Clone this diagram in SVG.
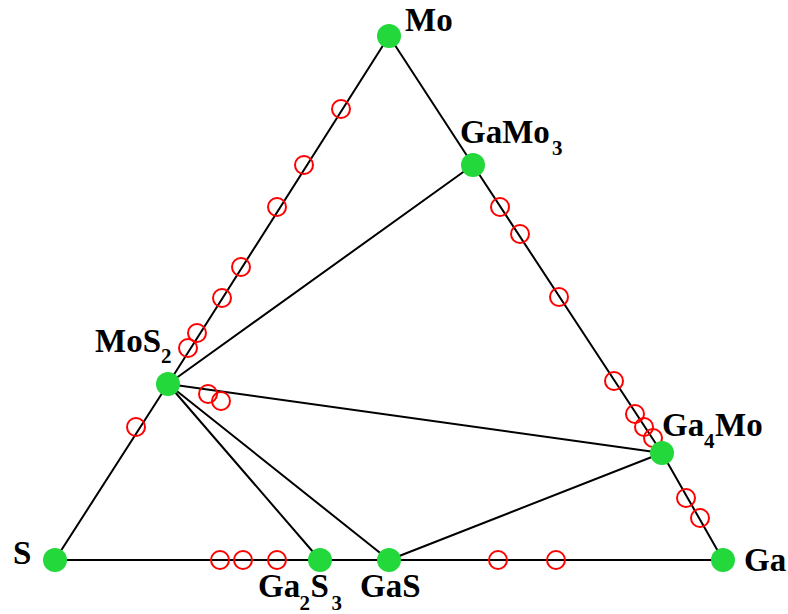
<svg xmlns="http://www.w3.org/2000/svg" width="788" height="614" viewBox="0 0 788 614">
<style>
.ln{stroke:#000;stroke-width:2;fill:none;stroke-linecap:round}
.pt{fill:none;stroke:#ff0000;stroke-width:2}
.nd{fill:#22d83a}
.lb{font-family:"Liberation Serif","Times New Roman",serif;font-weight:bold;font-size:33px;fill:#000}
.sb{font-family:"Liberation Serif","Times New Roman",serif;font-weight:bold;font-size:21px;fill:#000}
</style>
<rect width="788" height="614" fill="#fff"/>
<g id="connectors">
<line class="ln" x1="389" y1="36" x2="473" y2="165"/>
<line class="ln" x1="473" y1="165" x2="662" y2="453"/>
<line class="ln" x1="662" y1="453" x2="723" y2="560"/>
<line class="ln" x1="389" y1="36" x2="168" y2="384"/>
<line class="ln" x1="168" y1="384" x2="55" y2="560"/>
<line class="ln" x1="55" y1="560" x2="723" y2="560"/>
<line class="ln" x1="168" y1="384" x2="473" y2="165"/>
<line class="ln" x1="168" y1="384" x2="662" y2="453"/>
<line class="ln" x1="168" y1="384" x2="320" y2="560"/>
<line class="ln" x1="168" y1="384" x2="389" y2="560"/>
<line class="ln" x1="389" y1="560" x2="662" y2="453"/>
</g>
<g id="points">
<circle class="pt" cx="341" cy="109" r="9"/>
<circle class="pt" cx="304" cy="165" r="9"/>
<circle class="pt" cx="277" cy="207" r="9"/>
<circle class="pt" cx="241" cy="267" r="9"/>
<circle class="pt" cx="222" cy="298" r="9"/>
<circle class="pt" cx="197" cy="333" r="9"/>
<circle class="pt" cx="188" cy="348" r="9"/>
<circle class="pt" cx="136" cy="427" r="9"/>
<circle class="pt" cx="208" cy="394" r="9"/>
<circle class="pt" cx="221" cy="401" r="9"/>
<circle class="pt" cx="500" cy="207" r="9"/>
<circle class="pt" cx="520" cy="234" r="9"/>
<circle class="pt" cx="559" cy="297" r="9"/>
<circle class="pt" cx="614" cy="381" r="9"/>
<circle class="pt" cx="635" cy="414" r="9"/>
<circle class="pt" cx="644" cy="427" r="9"/>
<circle class="pt" cx="653" cy="438" r="9"/>
<circle class="pt" cx="686" cy="498" r="9"/>
<circle class="pt" cx="700" cy="518" r="9"/>
<circle class="pt" cx="220" cy="560" r="9"/>
<circle class="pt" cx="243" cy="560" r="9"/>
<circle class="pt" cx="277" cy="560" r="9"/>
<circle class="pt" cx="498" cy="560" r="9"/>
<circle class="pt" cx="556" cy="560" r="9"/>
</g>
<g id="node-Mo"><circle class="nd" cx="389" cy="36" r="12"/><text class="lb" x="405" y="31">Mo</text></g>
<g id="node-GaMo3"><circle class="nd" cx="473" cy="165" r="12"/><text class="lb" x="460" y="142.5">GaMo</text><text class="sb" x="552" y="155">3</text></g>
<g id="node-MoS2"><circle class="nd" cx="168" cy="384" r="12"/><text class="lb" x="95" y="352">MoS</text><text class="sb" x="161" y="363">2</text></g>
<g id="node-Ga4Mo"><circle class="nd" cx="662" cy="453" r="12"/><text class="lb" x="662" y="436">Ga</text><text class="sb" x="704" y="448">4</text><text class="lb" x="715" y="436">Mo</text></g>
<g id="node-S"><circle class="nd" cx="55" cy="560" r="12"/><text class="lb" x="13" y="563.5">S</text></g>
<g id="node-Ga2S3"><circle class="nd" cx="320" cy="560" r="12"/><text class="lb" x="258" y="597">Ga</text><text class="sb" x="299.5" y="610">2</text><text class="lb" x="310.5" y="597">S</text><text class="sb" x="331.5" y="610">3</text></g>
<g id="node-GaS"><circle class="nd" cx="389" cy="560" r="12"/><text class="lb" x="360" y="597">GaS</text></g>
<g id="node-Ga"><circle class="nd" cx="723" cy="560" r="12"/><text class="lb" x="744" y="571">Ga</text></g>
</svg>
